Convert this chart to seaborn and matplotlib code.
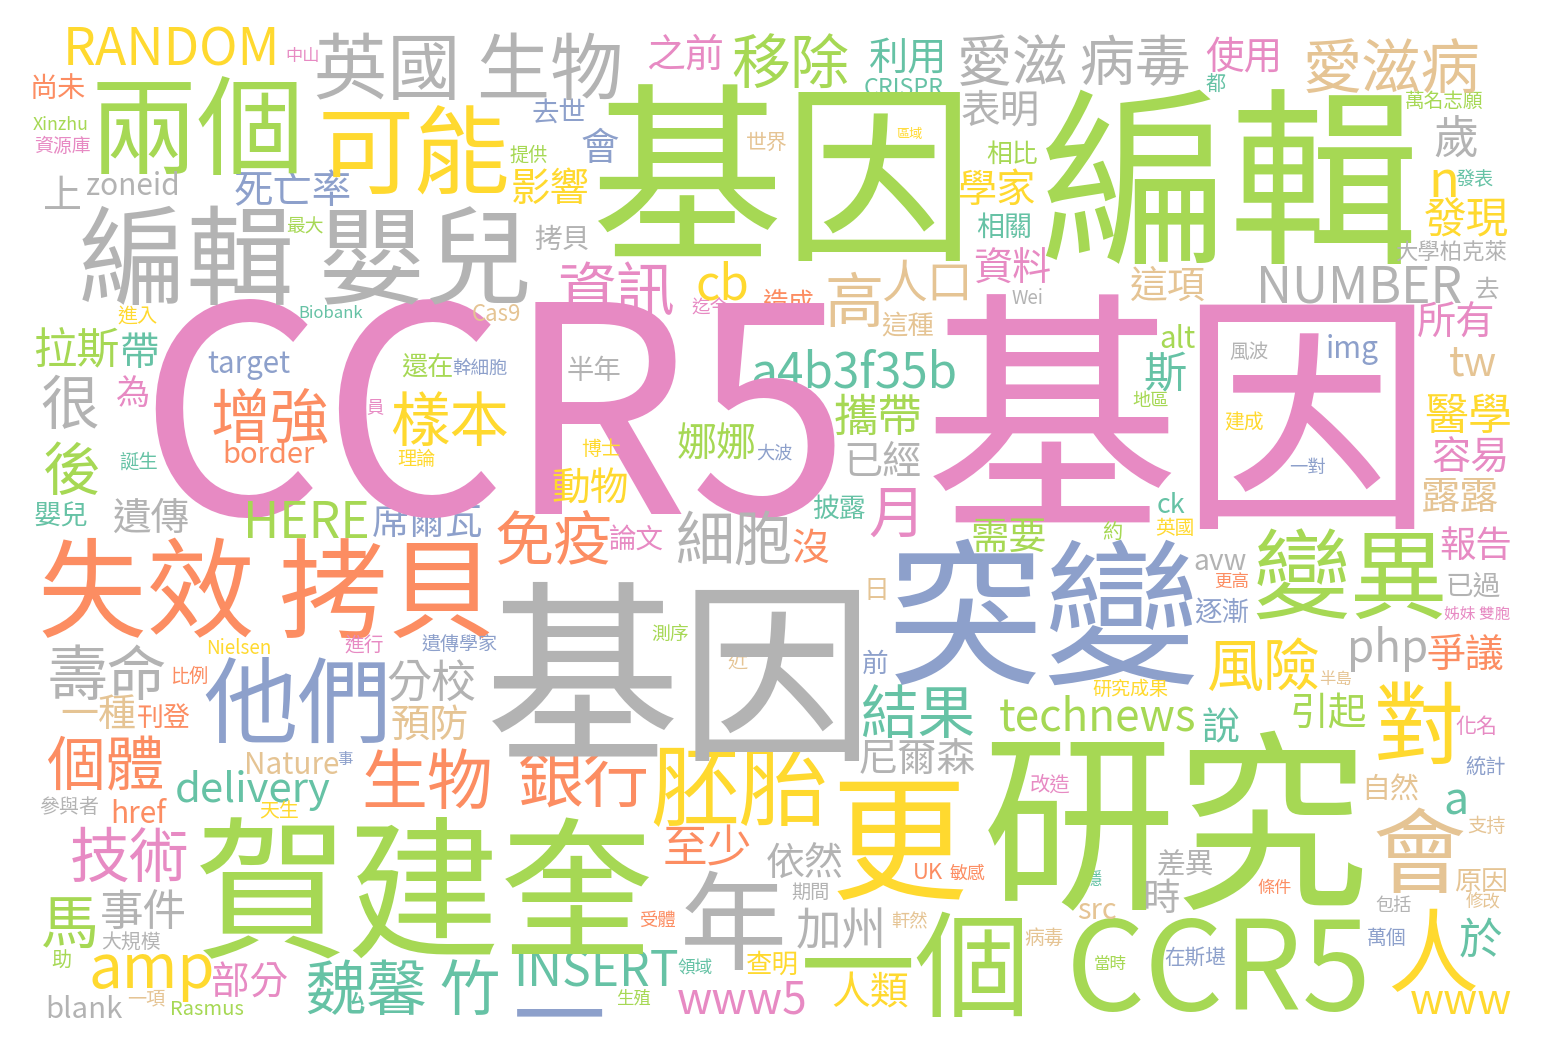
import matplotlib
matplotlib.use("Agg")
import matplotlib.pyplot as plt
import seaborn as sns
from matplotlib.font_manager import FontProperties
from matplotlib.textpath import TextPath

# =========================
# WORDS (grouped by Set2 colour)
# =========================

teal_words = ["利用", "CRISPR", "相關", "Biobank", "帶", "誕生", "嬰兒", "a4b3f35b",
              "披露", "發表", "都", "斯", "ck", "delivery", "魏馨 竹", "結果",
              "INSERT", "領域", "說", "a", "穩", "於"]
orange_words = ["尚未", "造成", "增強", "border", "失效 拷貝", "比例", "免疫", "沒",
                "更高", "爭議", "刊登", "個體", "生物", "href", "銀行", "至少",
                "UK", "敏感", "受體", "條件"]
blue_words = ["死亡率", "去世", "會", "img", "target", "幹細胞", "席爾瓦", "遺傳學家",
              "他們", "大波", "前", "突變", "一對", "逐漸", "事", "一", "統計",
              "萬個", "在斯堪"]
pink_words = ["中山", "資源庫", "之前", "資訊", "迄今", "資料", "使用", "所有",
              "CCR5", "基因", "為", "員", "進行", "論文", "月", "容易", "報告",
              "姊妹 雙胞", "技術", "部分", "www5", "化名", "改造"]
green_words = ["兩個", "Xinzhu", "最大", "拉斯", "移除", "基因", "提供", "相比",
               "編輯", "萬名志願", "alt", "還在", "後", "HERE", "攜帶", "娜娜",
               "需要", "測序", "地區", "約", "變異", "賀建奎", "馬", "助",
               "Rasmus", "technews", "一個", "生殖", "引起", "研究", "CCR5", "當時"]
yellow_words = ["RANDOM", "可能", "進入", "影響", "學家", "區域", "cb", "n", "發現",
                "樣本", "理論", "Nielsen", "博士", "動物", "英國", "建成", "醫學",
                "風險", "研究成果", "天生", "amp", "胚胎", "更", "查明", "人類",
                "對", "人", "www"]
tan_words = ["Cas9", "世界", "高", "人口", "這種", "愛滋病", "這項", "tw", "露露",
             "日", "近", "半島", "一種", "預防", "Nature", "一項", "軒然", "自然",
             "支持", "會", "原因", "修改", "src", "病毒"]
gray_words = ["英國 生物", "上", "zoneid", "編輯 嬰兒", "愛滋 病毒", "表明", "拷貝",
              "Wei", "歲", "大學柏克萊", "NUMBER", "去", "很", "遺傳", "壽命",
              "分校", "半年", "已經", "細胞", "基因", "風波", "avw", "已過", "php",
              "參與者", "事件", "大規模", "blank", "尼爾森", "依然", "期間", "年",
              "加州", "差異", "時", "包括"]

# =========================
# LAYOUT (ink left, ink right, ink middle in pixels)
# =========================

teal_boxes = [(870, 943, 55), (865, 943, 86), (977, 1030, 225), (300, 363, 311),
              (122, 157, 350), (120, 157, 460), (35, 87, 514), (753, 955, 369),
              (813, 865, 507), (1456, 1493, 178), (1206, 1225, 83), (1145, 1185, 371),
              (1158, 1185, 502), (177, 330, 790), (308, 498, 987), (862, 973, 711),
              (518, 677, 969), (678, 712, 967), (1203, 1238, 725), (1446, 1465, 802),
              (1085, 1101, 879), (1460, 1501, 937)]
orange_boxes = [(33, 85, 86), (763, 813, 301), (213, 328, 415), (225, 315, 452),
                (43, 490, 588), (172, 207, 675), (497, 610, 537), (793, 828, 546),
                (1215, 1248, 581), (1428, 1503, 652), (138, 190, 716), (48, 162, 763),
                (365, 490, 779), (113, 167, 811), (520, 647, 778), (665, 750, 845),
                (915, 943, 871), (950, 985, 872), (640, 675, 919), (1258, 1291, 886)]
blue_boxes = [(235, 350, 188), (533, 585, 111), (582, 618, 145), (1328, 1378, 350),
              (208, 290, 366), (453, 507, 367), (373, 482, 520), (422, 497, 643),
              (205, 385, 700), (757, 792, 452), (863, 887, 662), (895, 1195, 612),
              (1290, 1325, 466), (1195, 1248, 610), (338, 352, 758), (517, 602, 1012),
              (1466, 1505, 765), (1368, 1405, 936), (1165, 1225, 956)]
pink_boxes = [(287, 318, 54), (35, 90, 145), (648, 722, 52), (560, 673, 288),
              (692, 728, 305), (975, 1050, 266), (1206, 1278, 54), (1418, 1493, 320),
              (155, 835, 408), (933, 1415, 412), (117, 148, 391), (367, 383, 406),
              (345, 383, 643), (610, 663, 537), (870, 915, 513), (1433, 1506, 455),
              (1441, 1510, 543), (1445, 1510, 613), (72, 187, 854), (213, 287, 980),
              (678, 805, 998), (1456, 1495, 725), (1031, 1070, 783)]
green_boxes = [(97, 297, 125), (33, 87, 123), (287, 323, 225), (35, 118, 347),
               (733, 848, 60), (597, 960, 173), (510, 547, 153), (987, 1037, 152),
               (1045, 1412, 177), (1406, 1483, 99), (1161, 1195, 336), (402, 452, 366),
               (45, 98, 468), (248, 367, 520), (835, 920, 414), (678, 755, 441),
               (973, 1045, 535), (652, 688, 633), (1133, 1168, 399), (1103, 1121, 530),
               (1256, 1443, 574), (200, 650, 887), (43, 95, 922), (52, 70, 959),
               (172, 243, 1008), (1000, 1195, 713), (805, 1023, 964), (617, 650, 997),
               (1293, 1366, 710), (988, 1363, 821), (1073, 1365, 965), (1095, 1126, 963)]
yellow_boxes = [(68, 275, 47), (323, 507, 150), (118, 157, 314), (513, 588, 186),
                (960, 1035, 187), (897, 922, 133), (698, 747, 281), (1433, 1455, 183),
                (1425, 1508, 217), (392, 507, 418), (398, 435, 458), (208, 270, 647),
                (582, 620, 447), (553, 627, 485), (1156, 1193, 527), (1225, 1263, 421),
                (1426, 1510, 413), (1208, 1318, 664), (1093, 1168, 688), (260, 298, 810),
                (92, 212, 978), (653, 825, 785), (837, 963, 841), (747, 797, 963),
                (833, 908, 990), (1378, 1460, 723), (1391, 1475, 950), (1411, 1511, 1002)]
tan_boxes = [(473, 520, 313), (747, 787, 141), (828, 880, 299), (883, 967, 280),
             (882, 933, 323), (1306, 1478, 65), (1131, 1205, 283), (1450, 1496, 362),
             (1423, 1498, 495), (868, 885, 589), (728, 747, 660), (1320, 1351, 678),
             (62, 135, 712), (392, 467, 722), (247, 338, 763), (128, 165, 998),
             (892, 927, 920), (1366, 1418, 787), (1468, 1505, 825), (1376, 1463, 850),
             (1455, 1506, 880), (1466, 1500, 900), (1078, 1116, 911), (1025, 1063, 936)]
gray_boxes = [(317, 620, 66), (45, 80, 193), (87, 177, 183), (82, 527, 255),
              (960, 1188, 60), (962, 1037, 108), (535, 588, 237), (1012, 1042, 297),
              (1435, 1476, 137), (1396, 1506, 250), (1261, 1461, 285), (1476, 1498, 288),
              (42, 97, 402), (113, 188, 515), (50, 165, 672), (388, 475, 680),
              (568, 620, 369), (847, 920, 458), (677, 790, 538), (492, 860, 672),
              (1230, 1268, 351), (1195, 1246, 562), (1448, 1500, 585), (1351, 1426, 650),
              (40, 98, 805), (102, 185, 910), (102, 160, 941), (48, 122, 1007),
              (860, 975, 756), (767, 842, 860), (792, 828, 891), (685, 782, 920),
              (797, 882, 928), (1158, 1213, 862), (1145, 1178, 896), (1376, 1411, 904)]


def place_word(ax, word, box, color, font, dpi):
    """Size a word so its ink fills the box width, then centre it vertically."""
    x0, x1, yc = box
    ext = TextPath((0, 0), word, size=1, prop=font).get_extents()
    em = (x1 - x0) / ext.width
    ax.text(x0 - ext.x0 * em, yc + (ext.y0 + ext.y1) / 2 * em, word,
            fontproperties=font, fontsize=em * 72 / dpi, color=color,
            ha="left", va="baseline")


# =========================
# SETUP
# =========================

sns.set_theme(style="white")
plt.rcParams["font.family"] = ["Noto Sans CJK TC", "DejaVu Sans"]

DPI = 100
W, H = 1548, 1052
font = FontProperties(family="Noto Sans CJK TC")
palette = sns.color_palette("Set2", 8)

groups = [
    (teal_words, teal_boxes, 0),
    (orange_words, orange_boxes, 1),
    (blue_words, blue_boxes, 2),
    (pink_words, pink_boxes, 3),
    (green_words, green_boxes, 4),
    (yellow_words, yellow_boxes, 5),
    (tan_words, tan_boxes, 6),
    (gray_words, gray_boxes, 7),
]

fig = plt.figure(figsize=(W / DPI, H / DPI), dpi=DPI, facecolor="white")
ax = fig.add_axes([0, 0, 1, 1])
ax.set_xlim(0, W)
ax.set_ylim(H, 0)
ax.axis("off")

for words, boxes, idx in groups:
    for word, box in zip(words, boxes):
        place_word(ax, word, box, palette[idx], font, DPI)

fig.savefig("out.png", dpi=DPI, facecolor="white")
plt.close(fig)
